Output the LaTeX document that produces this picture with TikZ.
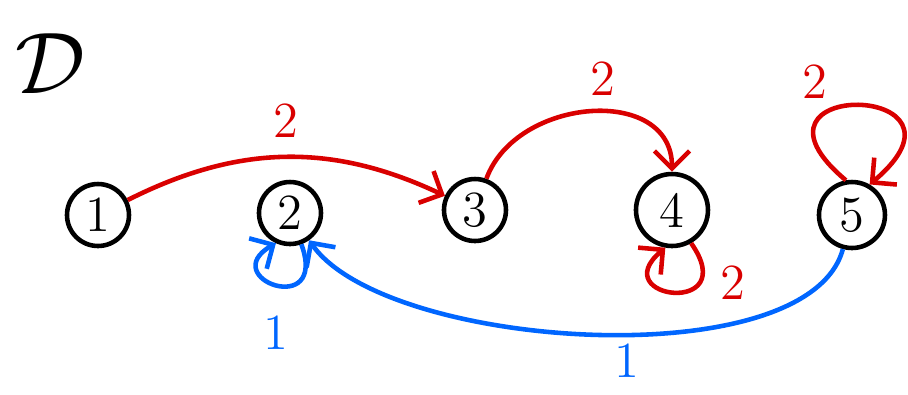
\documentclass[tikz,border=0pt]{standalone}
\usetikzlibrary{arrows.meta}
\begin{document}
\begin{tikzpicture}[line width=1.3pt,
    state/.style={draw, circle, minimum size=0.62cm, inner sep=0pt, font=\Large},
    redarc/.style={draw=red!85!black, -{Straight Barb[length=5pt]}},
    bluearc/.style={draw=blue!60!cyan, -{Straight Barb[length=5pt]}},
    wlabel/.style={font=\Large, inner sep=2pt}]
      \useasboundingbox (0,0) rectangle (9.08,3.94);

      \node[font=\fontsize{30}{32}\selectfont] (title) at (0.5,3.3) {$\mathcal{D}$};

      \node[state] (n1) at (0.98,1.79) {1};
      \node[state] (n2) at (2.90,1.81) {2};
      \node[state] (n3) at (4.75,1.84) {3};
      \node[state, minimum size=0.72cm] (n4) at (6.72,1.84) {4};
      \node[state, minimum size=0.66cm] (n5) at (8.52,1.79) {5};

      % red weights
      \draw[redarc] (n1) to[bend left=26]
        node[wlabel, text=red!85!black, above=3pt] {2} (n3);
      \draw[redarc] (n3) to[out=70, in=90, looseness=1.2]
        node[wlabel, text=red!85!black, above=2pt, pos=0.55] {2} (n4);
      \draw[redarc] (n4.-60) .. controls +(-55:0.9) and +(-140:0.8) .. (n4.-100)
        node[wlabel, text=red!85!black, pos=0.25, right=3pt] {2};
      \draw[redarc] (n5.100) .. controls +(140:1.6) and +(40:1.6) .. (n5.60)
        node[wlabel, text=red!85!black, pos=0.4, above left=0pt] {2};

      % blue weights
      \draw[bluearc] (n5) to[out=-105, in=-55, looseness=0.64]
        node[wlabel, text=blue!60!cyan, inner sep=0pt, below=2pt, pos=0.45] {1} (n2);
      \draw[bluearc] (n2.-70) .. controls +(-70:0.8) and +(-150:0.7) .. (n2.-115)
        node[wlabel, text=blue!60!cyan, pos=0.5, below=6pt] {1};
    \end{tikzpicture}
\end{document}
